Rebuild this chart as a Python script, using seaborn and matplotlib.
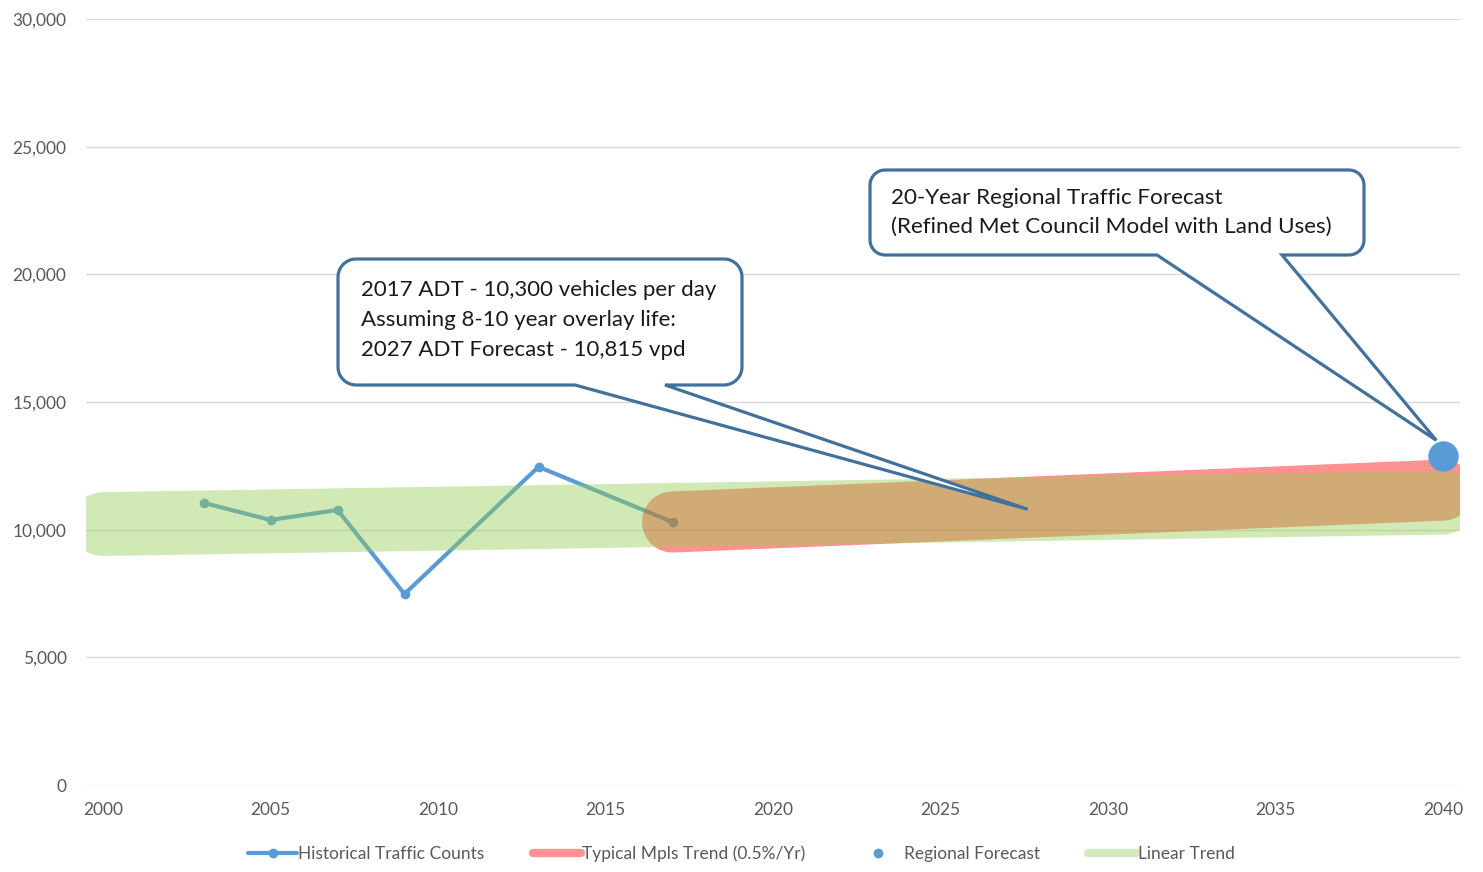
import numpy as np
import pandas as pd
import seaborn as sns
import matplotlib
matplotlib.use("Agg")
from matplotlib import pyplot as plt
from matplotlib.lines import Line2D
from matplotlib.patches import Polygon
from matplotlib.ticker import FuncFormatter

# data
hist_years = [2003, 2005, 2007, 2009, 2013, 2017]
hist_counts = [11050, 10380, 10770, 7480, 12460, 10300]

mpls_years = [2017, 2040]
mpls_counts = [10300, 11550]

linear_years = [2000, 2040]
linear_counts = [10220, 11060]

forecast_years = [2040]
forecast_counts = [12900]

y_ticks = [0, 5000, 10000, 15000, 20000, 25000, 30000]
x_ticks = [2000, 2005, 2010, 2015, 2020, 2025, 2030, 2035, 2040]

callout_1 = ["2017 ADT - 10,300 vehicles per day",
             "Assuming 8-10 year overlay life:",
             "2027 ADT Forecast - 10,815 vpd"]
callout_2 = ["20-Year Regional Traffic Forecast",
             "(Refined Met Council Model with Land Uses)"]

BLUE = "#5B9BD5"
EDGE = "#41719C"
GRAY = "#595959"

W, H = 1483, 872

sns.set_style("white")
plt.rcParams["font.family"] = ["Lato", "DejaVu Sans"]

fig = plt.figure(figsize=(W / 100, H / 100), dpi=100)
ax = fig.add_axes([86 / W, 1 - 785 / H, (1460 - 86) / W, (785 - 19) / H])

hist = pd.DataFrame({"year": hist_years, "count": hist_counts})
mpls = pd.DataFrame({"year": mpls_years, "count": mpls_counts})
linear = pd.DataFrame({"year": linear_years, "count": linear_counts})
fcst = pd.DataFrame({"year": forecast_years, "count": forecast_counts})

sns.lineplot(data=hist, x="year", y="count", color=BLUE, lw=3, marker="o",
             markersize=7, markeredgewidth=0, ax=ax, zorder=2)
sns.lineplot(data=mpls, x="year", y="count", color="red", alpha=0.43, lw=44,
             solid_capstyle="round", ax=ax, zorder=3)
sns.lineplot(data=linear, x="year", y="count", color=(0.59, 0.81, 0.33), alpha=0.43,
             lw=46, solid_capstyle="round", ax=ax, zorder=4)
sns.scatterplot(data=fcst, x="year", y="count", color=BLUE, s=480, linewidth=0,
                ax=ax, zorder=5)

ax.set_xlim(2000 - 17 / 33.5, 2040 + 17 / 33.5)
ax.set_ylim(0, 30000)
ax.set_xticks(x_ticks)
ax.set_yticks(y_ticks)
ax.yaxis.set_major_formatter(FuncFormatter(lambda v, p: f"{int(v):,}"))
ax.tick_params(axis="both", length=0, labelsize=12.5, labelcolor=GRAY)
ax.tick_params(axis="y", pad=14)
ax.tick_params(axis="x", pad=12)
ax.yaxis.grid(True, color="#D9D9D9", lw=1)
ax.set_axisbelow(True)
for s in ax.spines.values():
    s.set_visible(False)
ax.set_xlabel("")
ax.set_ylabel("")
if ax.get_legend():
    ax.get_legend().remove()

handles = [
    Line2D([], [], color=BLUE, lw=3, marker="o", markersize=6),
    Line2D([], [], color="#FF9393", lw=6),
    Line2D([], [], color=BLUE, lw=0, marker="o", markersize=6),
    Line2D([], [], color="#D3EABB", lw=6),
]
labels = ["Historical Traffic Counts", "Typical Mpls Trend (0.5%/Yr)",
          "Regional Forecast", "Linear Trend"]
leg = fig.legend(handles, labels, loc="center", bbox_to_anchor=(0.5, 1 - 854 / H),
                 ncol=4, frameon=False, fontsize=12.5, handlelength=2.8,
                 handletextpad=0.05, columnspacing=2.8)
for t in leg.get_texts():
    t.set_color(GRAY)


# callout boxes drawn in figure pixels, pointer tip taken from data coords
def to_px(x, y):
    px, py = ax.transData.transform((x, y))
    return px, H - py


def callout(x0, y0, x1, y1, r, bx0, bx1, tip):
    pts = []

    def arc(cx, cy, a0, a1):
        for a in np.linspace(np.radians(a0), np.radians(a1), 10):
            pts.append((cx + r * np.cos(a), cy + r * np.sin(a)))

    arc(x1 - r, y0 + r, -90, 0)
    arc(x1 - r, y1 - r, 0, 90)
    pts += [(bx1, y1), tip, (bx0, y1)]
    arc(x0 + r, y1 - r, 90, 180)
    arc(x0 + r, y0 + r, 180, 270)
    pts = [(x / W, 1 - y / H) for x, y in pts]
    poly = Polygon(pts, closed=True, facecolor="white", edgecolor=EDGE, lw=2.3,
                   transform=fig.transFigure, zorder=6, clip_on=False)
    fig.add_artist(poly)


callout(338, 259, 742, 385, 18, 575, 665, to_px(2027.6, 10800))
callout(870, 170, 1364, 255, 15, 1157, 1282, to_px(2039.8, 13500))

for i, line in enumerate(callout_1):
    fig.text(361 / W, 1 - (290 + 30 * i) / H, line, fontsize=16, color="#1a1a1a",
             va="center", ha="left", zorder=7)
for i, line in enumerate(callout_2):
    fig.text(891 / W, 1 - (198 + 29 * i) / H, line, fontsize=16.2, color="#1a1a1a",
             va="center", ha="left", zorder=7)

fig.savefig("out.png", dpi=100)
